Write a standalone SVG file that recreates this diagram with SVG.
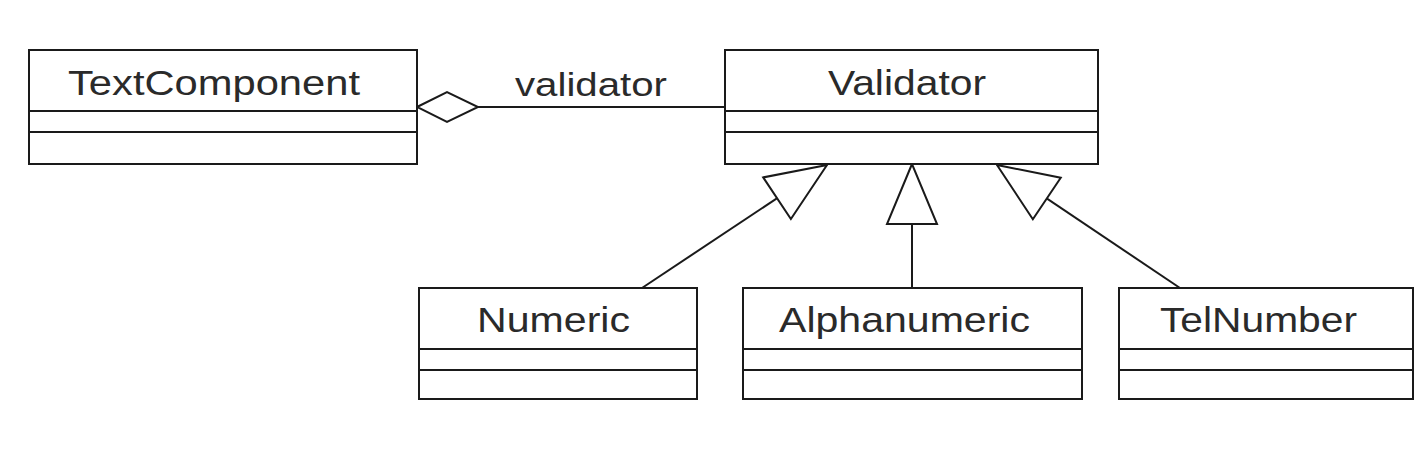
<svg xmlns="http://www.w3.org/2000/svg" width="1426" height="452" viewBox="0 0 1426 452">
<style>
.box{fill:#fff;stroke:#1a1a1a;stroke-width:2}
.div{stroke:#1a1a1a;stroke-width:2}
.lbl{font-family:"Liberation Sans",Arial,sans-serif;font-size:35px;fill:#2a2a2a}
.conn{stroke:#1a1a1a;stroke-width:2;fill:none}
</style>
<defs>
<marker id="gen" markerUnits="userSpaceOnUse" markerWidth="64" markerHeight="54" viewBox="-2 -2 64 54" refX="60" refY="25" orient="auto">
<path d="M60,25 L0,0 L0,50 Z" fill="#fff" stroke="#1a1a1a" stroke-width="2"/>
</marker>
<marker id="agg" markerUnits="userSpaceOnUse" markerWidth="66" markerHeight="34" viewBox="-2 -2 66 34" refX="0" refY="15" orient="auto">
<path d="M0,15 L30,0 L61,15 L30,30 Z" fill="#fff" stroke="#1a1a1a" stroke-width="2"/>
</marker>
</defs>
<rect width="1426" height="452" fill="#fff"/>
<g id="connectors">
<line class="conn" x1="417" y1="107" x2="725" y2="107" marker-start="url(#agg)"/>
<text class="lbl" x="515" y="96" font-size="33" textLength="152" lengthAdjust="spacingAndGlyphs" style="font-size:33px">validator</text>
<line class="conn" x1="642" y1="288" x2="827" y2="165" marker-end="url(#gen)"/>
<line class="conn" x1="912" y1="288" x2="912" y2="164" marker-end="url(#gen)"/>
<line class="conn" x1="1180" y1="288" x2="997" y2="165" marker-end="url(#gen)"/>
</g>
<g id="TextComponent">
<rect class="box" x="29" y="50" width="388" height="114"/>
<line class="div" x1="29" y1="111" x2="417" y2="111"/>
<line class="div" x1="29" y1="132" x2="417" y2="132"/>
<text class="lbl" x="68" y="95" textLength="292" lengthAdjust="spacingAndGlyphs">TextComponent</text>
</g>
<g id="Validator">
<rect class="box" x="725" y="50" width="373" height="114"/>
<line class="div" x1="725" y1="111" x2="1098" y2="111"/>
<line class="div" x1="725" y1="132" x2="1098" y2="132"/>
<text class="lbl" x="828" y="95" textLength="158" lengthAdjust="spacingAndGlyphs">Validator</text>
</g>
<g id="Numeric">
<rect class="box" x="419" y="288" width="278" height="111"/>
<line class="div" x1="419" y1="349" x2="697" y2="349"/>
<line class="div" x1="419" y1="370" x2="697" y2="370"/>
<text class="lbl" x="477" y="332" textLength="153" lengthAdjust="spacingAndGlyphs">Numeric</text>
</g>
<g id="Alphanumeric">
<rect class="box" x="743" y="288" width="339" height="111"/>
<line class="div" x1="743" y1="349" x2="1082" y2="349"/>
<line class="div" x1="743" y1="370" x2="1082" y2="370"/>
<text class="lbl" x="779" y="332" textLength="251" lengthAdjust="spacingAndGlyphs">Alphanumeric</text>
</g>
<g id="TelNumber">
<rect class="box" x="1119" y="288" width="294" height="111"/>
<line class="div" x1="1119" y1="349" x2="1413" y2="349"/>
<line class="div" x1="1119" y1="370" x2="1413" y2="370"/>
<text class="lbl" x="1160" y="332" textLength="197" lengthAdjust="spacingAndGlyphs">TelNumber</text>
</g>
</svg>
